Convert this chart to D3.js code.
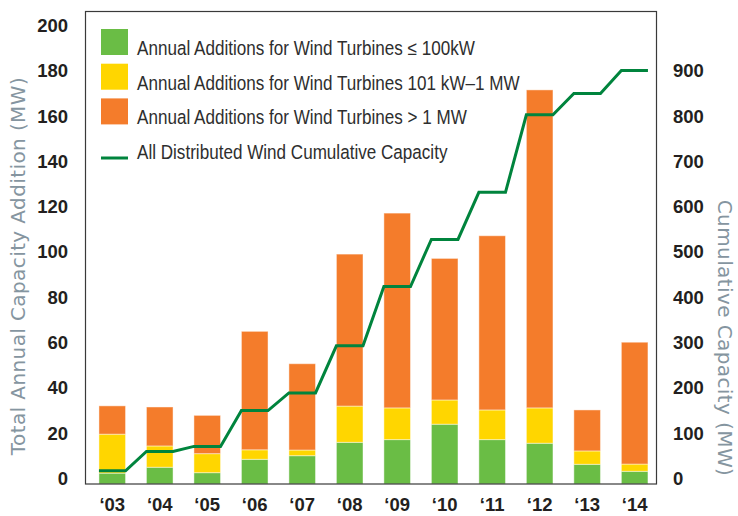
<!DOCTYPE html>
<html>
<head>
<meta charset="utf-8">
<script src="https://cdn.jsdelivr.net/npm/d3@7"></script>
<style>
  body { margin: 0; background: #fff; }
  .tick text { font-family: "Liberation Sans", Arial, sans-serif; font-weight: bold; font-size: 18.5px; fill: #231f20; }
  .legend text { font-family: "Liberation Sans", Arial, sans-serif; font-size: 19.5px; fill: #2e2e2e; }
  .title { font-family: "DejaVu Sans", sans-serif; font-size: 20px; fill: #8595a0; letter-spacing: 0.4px; }
</style>
</head>
<body>
<div id="chart"></div>
<script>
// values (MW)
var years = ["\u201803", "\u201804", "\u201805", "\u201806", "\u201807", "\u201808",
             "\u201809", "\u201810", "\u201811", "\u201812", "\u201813", "\u201814"];
var small = [4.8, 7.4, 5.0, 10.9, 12.5, 18.4, 19.6, 26.4, 19.6, 18.0, 8.7, 5.6];
var mid = [17.2, 9.4, 8.4, 4.2, 2.5, 16.0, 14.0, 10.7, 13.1, 15.6, 5.9, 3.2];
var large = [12.5, 17.2, 16.9, 52.3, 38.1, 67.1, 86.0, 62.5, 76.9, 140.4, 18.1, 53.8];
var cumulative = [29, 72, 83, 162, 201, 305, 436, 540, 644, 815, 862, 913];

var leftTicks = [0, 20, 40, 60, 80, 100, 120, 140, 160, 180, 200];
var rightTicks = [0, 100, 200, 300, 400, 500, 600, 700, 800, 900];

var seriesNames = [
    "Annual Additions for Wind Turbines \u2264 100kW",
    "Annual Additions for Wind Turbines 101 kW\u20131 MW",
    "Annual Additions for Wind Turbines > 1 MW"
];
var lineName = "All Distributed Wind Cumulative Capacity";
var colors = ["#6abd45", "#ffd600", "#f47c2b"];
var line_color = "#00843d";

var width = 738,
    height = 516;

var svg = d3.select("#chart")
    .append("svg")
    .attr("width", width)
    .attr("height", height);

var x = d3.scaleBand()
    .domain(years)
    .range([88.5, 658.4])
    .paddingInner(0.44)
    .paddingOuter(0.22);

var y = d3.scaleLinear().domain([0, 200]).range([484, 31]);
var yRight = d3.scaleLinear().domain([0, 1000]).range([484, 31]);

var rows = years.map(function (yr, i) {
    return { year: yr, s0: small[i], s1: mid[i], s2: large[i] };
});
var stack = d3.stack().keys(["s0", "s1", "s2"])(rows);

// bars
svg.append("g")
    .selectAll("g")
    .data(stack)
    .enter()
    .append("g")
    .attr("fill", function (d, i) { return colors[i]; })
    .selectAll("rect")
    .data(function (d) { return d; })
    .enter()
    .append("rect")
    .attr("x", function (d) { return x(d.data.year); })
    .attr("y", function (d) { return y(d[1]); })
    .attr("width", x.bandwidth())
    .attr("height", function (d) { return y(d[0]) - y(d[1]); })
    .style("stroke", "#fff")
    .style("stroke-opacity", 0.45)
    .style("stroke-width", 1);

// cumulative line, flat across each bar
var linePts = [];
years.forEach(function (yr, i) {
    linePts.push([x(yr), yRight(cumulative[i])]);
    linePts.push([x(yr) + x.bandwidth(), yRight(cumulative[i])]);
});
svg.append("path")
    .datum(linePts)
    .attr("d", d3.line())
    .style("fill", "none")
    .style("stroke", line_color)
    .style("stroke-width", 3)
    .style("stroke-linejoin", "miter");

// frame
svg.append("rect")
    .attr("x", 85.5)
    .attr("y", 11.5)
    .attr("width", 571)
    .attr("height", y(0) - 11.5)
    .style("fill", "none")
    .style("stroke", "#3a3a3a")
    .style("stroke-width", 1.2);

// axes
var left = svg.append("g")
    .attr("transform", "translate(68,0)")
    .call(d3.axisLeft(y).tickValues(leftTicks).tickSize(0).tickPadding(0));
left.select(".domain").remove();
left.selectAll("text").attr("dy", "0.35em").attr("y", -6);

var right = svg.append("g")
    .attr("transform", "translate(673,0)")
    .call(d3.axisRight(yRight).tickValues(rightTicks).tickSize(0).tickPadding(0));
right.select(".domain").remove();
right.selectAll("text").attr("dy", "0.35em").attr("y", -6);

var bottom = svg.append("g")
    .attr("transform", "translate(0,505)")
    .call(d3.axisBottom(x).tickSize(0).tickPadding(0));
bottom.select(".domain").remove();
bottom.selectAll("text").attr("dy", "0.35em");

// axis titles
svg.append("text")
    .attr("class", "title")
    .attr("transform", "translate(18,266) rotate(-90)")
    .attr("text-anchor", "middle")
    .attr("dy", "0.35em")
    .text("Total Annual Capacity Addition (MW)");

svg.append("text")
    .attr("class", "title")
    .attr("transform", "translate(725,338) rotate(90)")
    .attr("text-anchor", "middle")
    .attr("dy", "0.35em")
    .text("Cumulative Capacity (MW)");

// legend
var legend = svg.append("g").attr("class", "legend");
var labels = legend.append("g");
seriesNames.forEach(function (name, i) {
    legend.append("rect")
        .attr("x", 101)
        .attr("y", 29 + i * 34.7)
        .attr("width", 27)
        .attr("height", 26)
        .style("fill", colors[i]);
    labels.append("text")
        .attr("x", 0)
        .attr("y", 55 + i * 34.7)
        .text(name);
});
legend.append("line")
    .attr("x1", 101)
    .attr("x2", 128)
    .attr("y1", 158)
    .attr("y2", 158)
    .style("stroke", line_color)
    .style("stroke-width", 3);
labels.append("text")
    .attr("x", 0)
    .attr("y", 159)
    .text(lineName);

// the original face is condensed: squeeze labels to the width of the first line
var w1 = labels.select("text").node().getComputedTextLength();
var k = 338 / w1;
labels.attr("transform", "translate(137,0) scale(" + k + ",1)");
</script>
</body>
</html>
